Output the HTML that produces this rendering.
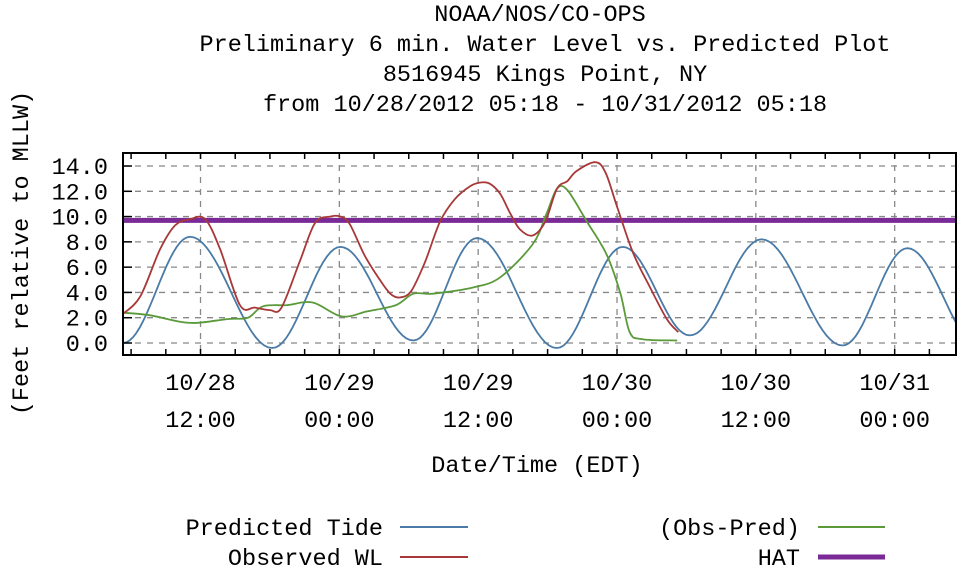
<!DOCTYPE html>
<html><head><meta charset="utf-8"><style>
html,body{margin:0;padding:0;background:#fff;width:960px;height:574px;overflow:hidden}
svg{display:block}
text{font-family:"Liberation Mono","DejaVu Sans Mono",monospace;fill:#000}
</style></head><body>
<svg id="chart" width="960" height="574" viewBox="0 0 960 574">
<g font-size="23.5" text-anchor="middle">
<text x="540" y="21">NOAA/NOS/CO-OPS</text>
<text x="545" y="51">Preliminary 6 min. Water Level vs. Predicted Plot</text>
<text x="545" y="81">8516945 Kings Point, NY</text>
<text x="545" y="111">from 10/28/2012 05:18 - 10/31/2012 05:18</text>
</g>
<text transform="translate(28,253) rotate(-90)" font-size="23.5" text-anchor="middle">(Feet relative to MLLW)</text>
<text x="537" y="472" font-size="23.5" text-anchor="middle">Date/Time (EDT)</text>
<g id="grid"></g>
<g id="series"></g>
<rect x="123" y="153" width="833" height="202" fill="none" stroke="#000" stroke-width="2"/>
<g id="axes"></g>
<g font-size="23.5" text-anchor="end">
<g><text x="383" y="535">Predicted Tide</text><line x1="400" y1="527" x2="468" y2="527" stroke="#4a7aa6" stroke-width="2"/></g>
<g><text x="383" y="565">Observed WL</text><line x1="400" y1="557" x2="468" y2="557" stroke="#a83838" stroke-width="2"/></g>
<g><text x="800" y="535">(Obs-Pred)</text><line x1="818" y1="527" x2="885" y2="527" stroke="#5a9a3a" stroke-width="2"/></g>
<g><text x="800" y="565">HAT</text><line x1="818" y1="557" x2="885" y2="557" stroke="#7a2a96" stroke-width="5"/></g>
</g>
</svg>
<script>
const yTicks = [0,2,4,6,8,10,12,14];
const yTickLabels = ["0.0","2.0","4.0","6.0","8.0","10.0","12.0","14.0"];
const xTickHours = [6.7,18.7,30.7,42.7,54.7,66.7];
const xTickDates = ["10/28","10/29","10/29","10/30","10/30","10/31"];
const xTickTimes = ["12:00","00:00","12:00","00:00","12:00","00:00"];
const hatValue = 9.7;
const predHours = [0,5.8,12.9,18.8,25.1,30.6,37.5,43.2,49.0,55.2,62.2,67.8,74.0];
const predValues = [0.0,8.4,-0.4,7.6,0.2,8.3,-0.4,7.6,0.6,8.2,-0.2,7.5,-0.2];
const obsHours = [0,1.5,3.2,4.5,5.8,7.1,8.4,10.1,11.4,12.7,13.7,15.3,16.6,17.9,18.8,19.6,20.9,22.2,23.1,23.9,24.9,26.1,27.4,28.7,30.0,30.9,31.7,32.6,33.5,34.3,35.4,36.5,37.5,38.4,39.2,40.8,41.7,42.7,44.1,45.5,47.0,48.0];
const obsValues = [2.3,3.7,7.4,9.3,9.8,9.8,7.4,3.0,2.8,2.6,2.8,6.5,9.5,10.0,10.0,9.4,6.9,5.0,3.9,3.6,4.1,6.4,9.6,11.4,12.4,12.7,12.6,11.8,10.2,9.0,8.5,9.6,12.2,12.8,13.6,14.3,13.5,10.8,7.1,4.5,1.9,0.85];
const diffHours = [0,2.3,4.8,6.5,9.1,10.8,12.1,14.2,16.4,18.9,21.1,23.6,25.1,26.8,30.3,32.6,35.4,36.6,37.5,38.4,40.1,41.8,43.0,43.8,44.9,47.9];
const diffValues = [2.4,2.2,1.7,1.6,1.9,2.0,2.9,3.0,3.2,2.1,2.5,3.0,3.9,3.9,4.4,5.2,7.8,10.2,12.2,12.1,9.6,7.0,3.9,0.85,0.3,0.2];

const L=123,R=956,T=153,B=355,H0=0,H1=72,V0=-0.95,V1=15.03;
function xs(h){return L+(h-H0)/(H1-H0)*(R-L);}
function ys(v){return B-(v-V0)/(V1-V0)*(B-T);}
const NS="http://www.w3.org/2000/svg";
function mk(tag,attrs,parent){const e=document.createElementNS(NS,tag);for(const k in attrs)e.setAttribute(k,attrs[k]);parent.appendChild(e);return e;}
const grid=document.getElementById('grid'),axes=document.getElementById('axes'),series=document.getElementById('series');

yTicks.forEach((v,i)=>{
  const g=mk('line',{x1:L,x2:R,y1:ys(v),y2:ys(v),stroke:'#888','stroke-width':1.3,'stroke-dasharray':'6,6'},grid);
  
  
  const t=mk('line',{x1:L,x2:L+9,y1:ys(v),y2:ys(v),stroke:'#000','stroke-width':1.5},axes);
  
  
  const lb=mk('text',{x:L-15,y:ys(v)+8,'font-size':23.5,'text-anchor':'end'},axes);
  lb.textContent=yTickLabels[i];
  
  
});
for(let h=0.7;h<H1;h+=3){
  const a=mk('line',{x1:xs(h),x2:xs(h),y1:T,y2:T+6,stroke:'#000','stroke-width':1.5},axes);
  
  
  const b=mk('line',{x1:xs(h),x2:xs(h),y1:B,y2:B-6,stroke:'#000','stroke-width':1.5},axes);
  
  
}
xTickHours.forEach((h,i)=>{
  const g=mk('line',{x1:xs(h),x2:xs(h),y1:T,y2:B,stroke:'#888','stroke-width':1.3,'stroke-dasharray':'6,6'},grid);
  
  
  const t1=mk('text',{x:xs(h),y:390,'font-size':23.5,'text-anchor':'middle'},axes);
  t1.textContent=xTickDates[i];
  
  
  const t2=mk('text',{x:xs(h),y:427,'font-size':23.5,'text-anchor':'middle'},axes);
  t2.textContent=xTickTimes[i];
  
  
});
const cp=mk('clipPath',{id:'clip'},series);
mk('rect',{x:L,y:T,width:R-L,height:B-T},cp);

const hat=mk('line',{x1:L,x2:R,y1:ys(hatValue),y2:ys(hatValue),stroke:'#7a2a96','stroke-width':5},series);



let d='';
for(let i=0;i<predHours.length-1;i++){
  const h0=predHours[i],h1=predHours[i+1],v0=predValues[i],v1=predValues[i+1];
  for(let k=0;k<=20;k++){const f=k/20,h=h0+(h1-h0)*f,v=v0+(v1-v0)*(1-Math.cos(Math.PI*f))/2;
    d+=(d?'L':'M')+xs(h).toFixed(1)+','+ys(v).toFixed(1);}
}
const pp=mk('path',{d:d,fill:'none',stroke:'#4a7aa6','stroke-width':1.8,'clip-path':'url(#clip)'},series);



function smooth(hs,vs){
  const p=hs.map((h,i)=>[xs(h),ys(vs[i])]);
  let s='M'+p[0][0].toFixed(1)+','+p[0][1].toFixed(1);
  for(let i=0;i<p.length-1;i++){
    const a=p[Math.max(0,i-1)],b=p[i],c=p[i+1],e=p[Math.min(p.length-1,i+2)];
    const c1=[b[0]+(c[0]-a[0])/6,b[1]+(c[1]-a[1])/6],c2=[c[0]-(e[0]-b[0])/6,c[1]-(e[1]-b[1])/6];
    s+='C'+c1.map(n=>n.toFixed(1)).join(',')+' '+c2.map(n=>n.toFixed(1)).join(',')+' '+c[0].toFixed(1)+','+c[1].toFixed(1);
  }
  return s;
}
const gp=mk('path',{d:smooth(diffHours,diffValues),fill:'none',stroke:'#5a9a3a','stroke-width':1.8},series);


const op=mk('path',{d:smooth(obsHours,obsValues),fill:'none',stroke:'#a83838','stroke-width':1.8},series);


</script>
</body></html>
